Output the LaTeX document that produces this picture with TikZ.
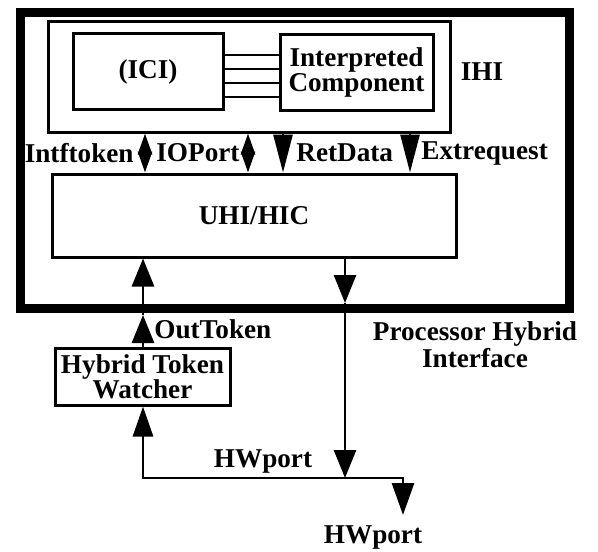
\documentclass[tikz,border=0pt]{standalone}
\usepackage{fontspec}
\setmainfont{Liberation Serif}
\usetikzlibrary{arrows.meta}
\newcommand{\dlabelfont}{\fontsize{13.6}{12.5}\selectfont\bfseries}
\begin{document}
\begin{tikzpicture}[x=0.5pt,y=-0.5pt,
  box/.style={draw, line width=1.5pt, rectangle, inner sep=0pt, align=center, font=\dlabelfont},
  frame/.style={draw, line width=4.5pt, rectangle, inner sep=0pt},
  lbl/.style={inner sep=0pt, align=center, font=\dlabelfont},
  wire/.style={line width=1.4pt},
  head/.style={wire, -{Triangle[length=14pt,width=11pt]}},
  longhead/.style={wire, -{Triangle[length=19pt,width=9.5pt]}},
  bothhead/.style={wire, {Triangle[length=15pt,width=10pt]}-{Triangle[length=16pt,width=11pt]}},
  bidir/.style={wire, {Triangle[length=10.5pt,width=7pt]}-{Triangle[length=10.5pt,width=7pt]}}
]
\useasboundingbox (0,0) rectangle (598,551);

% outer processor hybrid interface frame
\node[frame, minimum width=274.5pt, minimum height=147.75pt] (phi) at (294.5,160.25) {};

% IHI block with its two components
\node[box, minimum width=201pt, minimum height=55pt] (ihi) at (249,77) {};
\node[box, minimum width=75pt, minimum height=37.5pt] (ici) at (148,71.5) {(ICI)};
\node[box, minimum width=76.5pt, minimum height=37.5pt] (ic) at (356.5,72.5) {Interpreted\\Component};
\node[lbl] (ihilabel) at (482,72) {IHI};

% UHI/HIC block and the token watcher
\node[box, minimum width=202pt, minimum height=41.5pt] (uhi) at (254,215.5) {UHI/HIC};
\node[box, minimum width=87.5pt, minimum height=28.5pt] (htw) at (142.5,376.5) {Hybrid Token\\Watcher};

% x positions of the vertical connectors
\coordinate (xi) at (145,0);
\coordinate (xo) at (248,0);
\coordinate (xr) at (283,0);
\coordinate (xe) at (410,0);
\coordinate (xl) at (143,0);
\coordinate (xd) at (345,0);
\coordinate (xh) at (403,0);

% bundle between ICI and the interpreted component
\foreach \yy in {55,69,83,97} {
  \coordinate (ya) at (0,\yy);
  \draw[wire] (ici.east |- ya) -- (ic.west |- ya);
}

% IHI <-> UHI/HIC signals
\draw[bidir] (ihi.south -| xi) -- (uhi.north -| xi);
\draw[bidir] (ihi.south -| xo) -- (uhi.north -| xo);
\draw[longhead] (ihi.south -| xr) -- (uhi.north -| xr);
\draw[longhead] (ihi.south -| xe) -- (uhi.north -| xe);
\node[lbl, anchor=east] (lintf) at (134,153) {Intftoken};
\node[lbl, anchor=west] (lio) at (156,153) {IOPort};
\node[lbl, anchor=west] (lret) at (296,153) {RetData};
\node[lbl, anchor=west] (lext) at (421,153) {Extrequest};

% OutToken: watcher up into UHI/HIC
\coordinate (om) at (143,315);
\draw[head] (htw.north -| xl) -- (om);
\draw[head] (om) -- (uhi.south -| xl);
\node[lbl, anchor=west] (lout) at (154,329) {OutToken};

% UHI/HIC down to the hardware port bus
\coordinate (dm) at (345,303);
\coordinate (bj) at (345,478);
\draw[head] (uhi.south -| xd) -- (dm);
\draw[head] (dm) -- (bj);

% hardware port bus
\coordinate (bl) at (143,478);
\coordinate (br) at (403,478);
\coordinate (bend) at (403,515);
\draw[bothhead] (htw.south -| xl) -- (bl) -- (br) -- (bend);
\node[lbl] (lhw1) at (263,461) {HWport};
\node[lbl] (lhw2) at (373,537) {HWport};

\node[lbl] (lphi) at (475,345) {Processor Hybrid\\Interface};
\end{tikzpicture}
\end{document}
